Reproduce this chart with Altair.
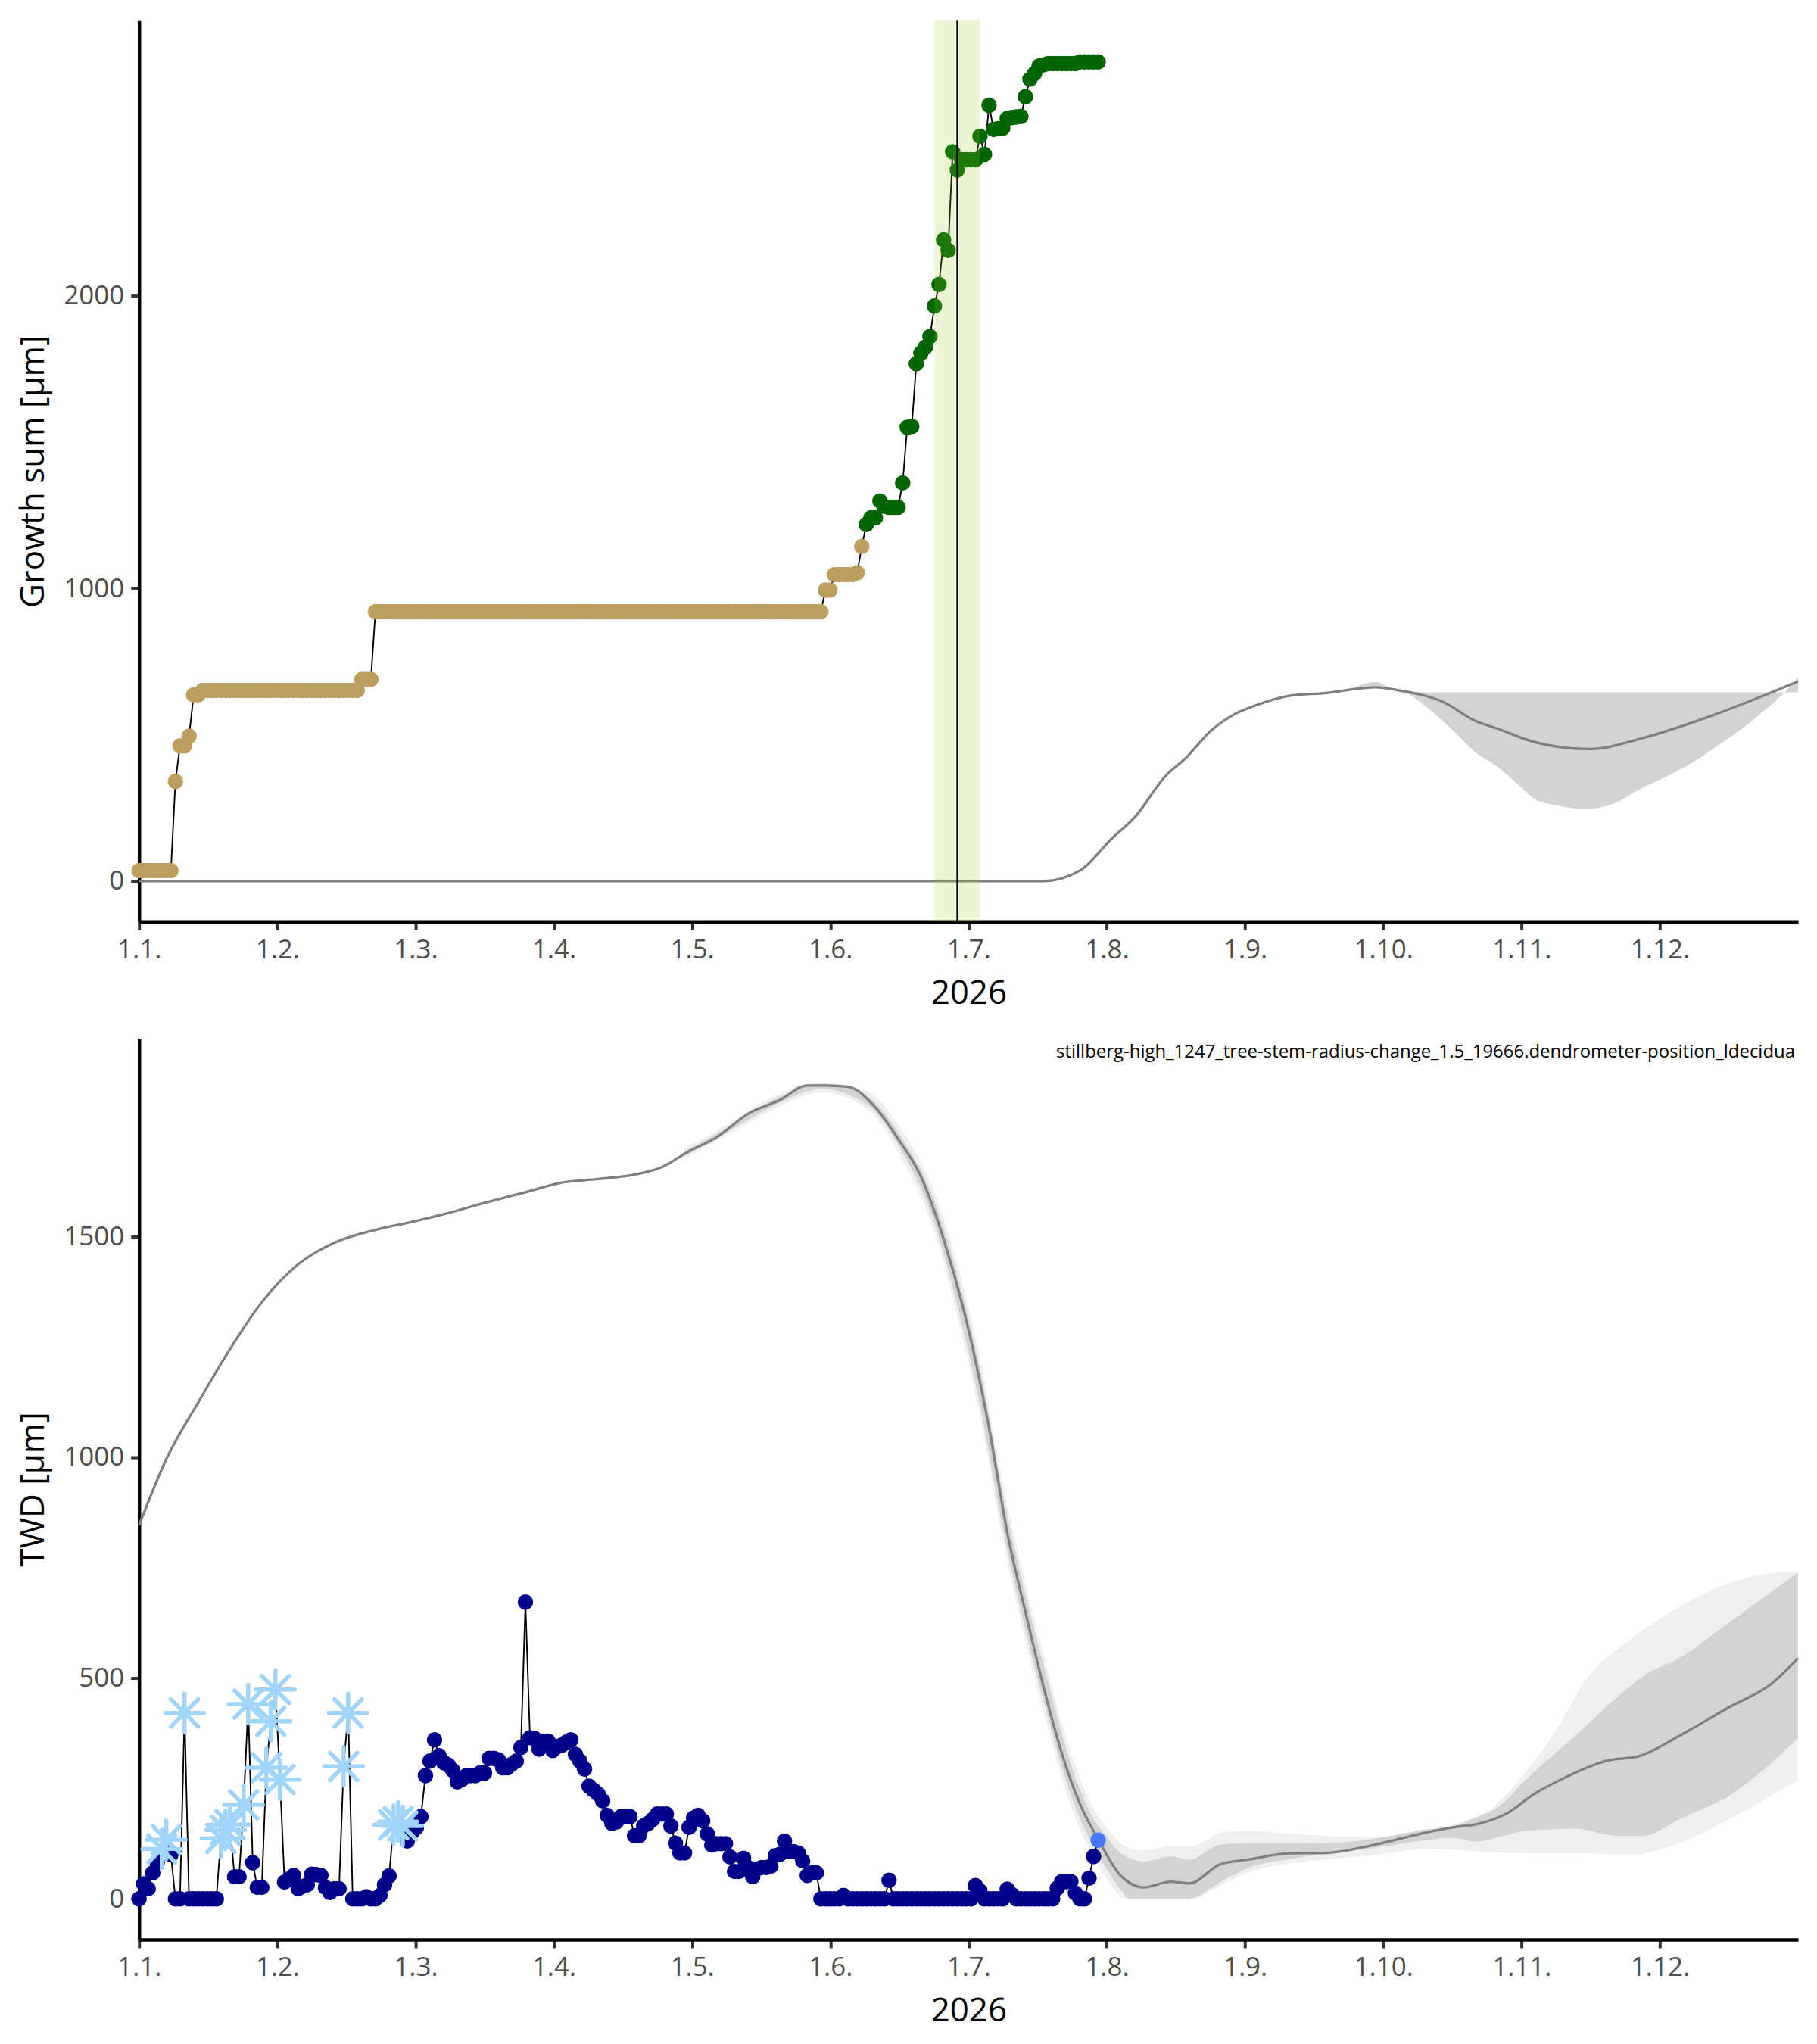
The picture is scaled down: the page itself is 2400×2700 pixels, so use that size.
import json
import altair as alt
import pandas as pd

# ---------------- data ----------------
# daily growth sum [um], day index 0 = 1 Jan 2026
growth_sum = [
    36, 36, 36, 36, 36, 36, 36, 36, 340, 462, 462, 495, 636, 636, 651, 651, 651, 651, 651, 651,
    651, 651, 651, 651, 651, 651, 651, 651, 651, 651, 651, 651, 651, 651, 651, 651, 651, 651, 651, 651,
    651, 651, 651, 651, 651, 651, 651, 651, 651, 689, 689, 689, 920, 920, 920, 920, 920, 920, 920, 920,
    920, 920, 920, 920, 920, 920, 920, 920, 920, 920, 920, 920, 920, 920, 920, 920, 920, 920, 920, 920,
    920, 920, 920, 920, 920, 920, 920, 920, 920, 920, 920, 920, 920, 920, 920, 920, 920, 920, 920, 920,
    920, 920, 920, 920, 920, 920, 920, 920, 920, 920, 920, 920, 920, 920, 920, 920, 920, 920, 920, 920,
    920, 920, 920, 920, 920, 920, 920, 920, 920, 920, 920, 920, 920, 920, 920, 920, 920, 920, 920, 920,
    920, 920, 920, 920, 920, 920, 920, 920, 920, 920, 920, 994, 994, 1047, 1047, 1047, 1047, 1047, 1053, 1143,
    1218, 1241, 1241, 1298, 1280, 1277, 1277, 1277, 1360, 1550, 1553, 1767, 1803, 1824, 1860, 1964, 2038, 2190, 2154, 2491,
    2429, 2464, 2464, 2464, 2464, 2544, 2482, 2650, 2567, 2570, 2572, 2605, 2608, 2610, 2612, 2679, 2739, 2758, 2784, 2788,
    2792, 2792, 2792, 2792, 2792, 2792, 2792, 2798, 2798, 2798, 2798, 2798,
]
growth_phase_start = 160          # first day of the growing phase (green points)
today_day = 180                   # vertical line
window_start, window_end = 175, 185

# daily tree water deficit [um]
twd = [
    0, 34, 23, 59, 83, 113, 134, 100, 0, 0,
    421, 0, 0, 0, 0, 0, 0, 0, 137, 156,
    168, 50, 50, 213, 441, 82, 26, 26, 297, 402,
    474, 270, 38, 45, 53, 23, 28, 32, 56, 55,
    53, 26, 14, 23, 23, 300, 421, 0, 0, 0,
    5, 0, 0, 8, 32, 52, 168, 175, 165, 131,
    150, 161, 186, 279, 312, 360, 324, 309, 303, 291,
    265, 270, 279, 279, 279, 285, 285, 318, 318, 315,
    297, 297, 305, 312, 343, 672, 365, 363, 339, 357,
    357, 336, 345, 348, 355, 360, 327, 312, 294, 255,
    246, 237, 222, 189, 171, 174, 186, 186, 186, 143,
    143, 165, 171, 180, 192, 192, 192, 165, 126, 104,
    104, 162, 183, 189, 177, 147, 122, 125, 125, 125,
    95, 62, 62, 92, 71, 50, 68, 71, 71, 74,
    98, 101, 131, 107, 107, 104, 86, 53, 59, 59,
    0, 0, 0, 0, 0, 8, 0, 0, 0, 0,
    0, 0, 0, 0, 0, 42, 0, 0, 0, 0,
    0, 0, 0, 0, 0, 0, 0, 0, 0, 0,
    0, 0, 0, 0, 30, 18, 0, 0, 0, 0,
    0, 22, 10, 0, 0, 0, 0, 0, 0, 0,
    0, 0, 24, 39, 39, 39, 13, 0, 0, 47,
    96, 133,
]
frost_days = [5, 6, 10, 18, 19, 20, 23, 24, 28, 29, 30, 31, 45, 46, 56, 57, 58]

# reference curves (grey) and their bands
growth_ref_days = [0, 199, 207, 214, 219, 226, 230, 236, 241, 246, 253, 262, 266, 272, 277, 287, 294,
                   299, 307, 319, 331, 342, 353, 365]
growth_ref = [0, 0, 36, 145, 217, 362, 416, 516, 570, 602, 633, 644, 653, 662, 652, 611, 547,
              520, 475, 451, 489, 543, 606, 682]
growth_band_days = [266, 269, 272, 275, 278, 284, 290, 294, 299, 303, 307, 312, 318, 324, 331, 337,
                    342, 348, 353, 357, 360, 363, 365]
growth_band_a = [653, 658, 662, 656, 648, 585, 500, 440, 389, 335, 281, 258, 246, 262, 321, 365,
                 407, 470, 525, 575, 615, 660, 697]
growth_band_b = [653, 670, 680, 662, 645, 645, 645, 645, 645, 645, 645, 645, 645, 645, 645, 645,
                 645, 645, 645, 645, 645, 645, 645]

twd_ref_days = [0, 6, 13, 20, 27, 35, 43, 52, 60, 68, 76, 85, 93, 101, 110, 115, 121, 127, 134, 141,
                147, 151, 156, 162, 167, 172, 177, 183, 187, 191, 195, 199, 203, 207, 211, 216, 221,
                227, 231, 238, 244, 253, 261, 272, 283, 289, 295, 301, 307, 314, 320, 323, 330, 339,
                350, 359, 365]
twd_ref = [846, 996, 1124, 1245, 1351, 1437, 1486, 1515, 1533, 1553, 1576, 1600, 1622, 1630, 1642,
           1657, 1693, 1724, 1778, 1809, 1842, 1842, 1839, 1792, 1721, 1636, 1494, 1266, 1067, 830,
           650, 480, 330, 215, 135, 52, 26, 39, 35, 79, 89, 103, 104, 123, 150, 162, 171, 194, 238,
           276, 303, 313, 323, 370, 435, 486, 545]
twd_outer_days = [120, 130, 140, 150, 160, 168, 175, 180, 185, 190, 195, 200, 205, 210, 213, 216, 218,
                  221, 227, 232, 238, 244, 253, 261, 272, 283, 291, 297, 303, 311, 319, 328, 339, 350,
                  361, 365]
twd_outer_lo = [1676, 1733, 1790, 1826, 1790, 1672, 1510, 1320, 1095, 815, 585, 385, 210, 95, 45, 5, 0,
                0, 0, 0, 32, 60, 80, 89, 100, 113, 110, 106, 104, 103, 103, 100, 127, 181, 245, 269]
twd_outer_hi = [1698, 1757, 1820, 1850, 1830, 1738, 1600, 1440, 1225, 945, 715, 515, 330, 205, 160, 125,
                115, 110, 120, 120, 150, 154, 148, 143, 140, 157, 174, 201, 262, 370, 506, 587, 662,
                716, 740, 743]
twd_inner_days = [120, 130, 140, 150, 160, 168, 175, 180, 185, 190, 195, 200, 205, 210, 213, 216, 218,
                  221, 227, 231, 238, 244, 253, 261, 272, 283, 289, 294, 299, 305, 316, 325, 331, 339,
                  350, 365]
twd_inner_lo = [1682, 1740, 1798, 1834, 1800, 1690, 1530, 1345, 1120, 840, 610, 410, 235, 118, 66, 20, 0,
                0, 0, 0, 39, 70, 90, 103, 116, 133, 138, 130, 140, 154, 159, 143, 143, 181, 235, 364]
twd_inner_hi = [1692, 1750, 1812, 1846, 1818, 1720, 1580, 1415, 1200, 920, 690, 490, 305, 182, 140, 103,
                92, 84, 96, 89, 123, 126, 126, 126, 137, 157, 164, 184, 208, 269, 370, 455, 505, 546,
                627, 740]

month_labels = ["1.1.", "1.2.", "1.3.", "1.4.", "1.5.", "1.6.", "1.7.", "1.8.", "1.9.", "1.10.",
                "1.11.", "1.12."]
year_title = "2026"
series_label = "stillberg-high_1247_tree-stem-radius-change_1.5_19666.dendrometer-position_ldecidua"

assert len(growth_sum) == len(twd) == 212

# ---------------- tables ----------------
days = list(range(len(growth_sum)))
growth_df = pd.DataFrame({"day": days, "value": growth_sum})
growth_df["phase"] = ["growing" if d >= growth_phase_start else "dormant" for d in days]
twd_df = pd.DataFrame({"day": days, "value": twd})
twd_df["kind"] = ["frost" if d in frost_days else "normal" for d in days]
twd_df.loc[twd_df.index[-1], "kind"] = "latest"

growth_ref_df = pd.DataFrame({"day": growth_ref_days, "value": growth_ref})
growth_band_df = pd.DataFrame({"day": growth_band_days, "a": growth_band_a, "b": growth_band_b})
twd_ref_df = pd.DataFrame({"day": twd_ref_days, "value": twd_ref})
twd_outer_df = pd.DataFrame({"day": twd_outer_days, "a": twd_outer_lo, "b": twd_outer_hi})
twd_inner_df = pd.DataFrame({"day": twd_inner_days, "a": twd_inner_lo, "b": twd_inner_hi})
window_df = pd.DataFrame({"start": [window_start], "end": [window_end]})
today_df = pd.DataFrame({"day": [today_day]})
label_df = pd.DataFrame({"label": [series_label]})

# ---------------- styling ----------------
FONT = "Open Sans"
W, H = 2195, 1192
YEAR_DAYS = 365
POINT_SIZE = 420
month_ticks = [i * YEAR_DAYS / 12 for i in range(12)]
label_expr = json.dumps(month_labels) + "[round(datum.value * 12 / 365)]"

x_scale = alt.Scale(domain=[0, YEAR_DAYS], nice=False, zero=False)
x_axis = alt.Axis(values=month_ticks, labelExpr=label_expr, title=year_title,
                  labelFlush=False, labelOverlap=False)


def X(field="day"):
    return alt.X(f"{field}:Q", scale=x_scale, axis=x_axis)


def make_y(domain, ticks, title):
    scale = alt.Scale(domain=domain, nice=False, zero=False)
    axis = alt.Axis(values=ticks, format="d", title=title, labelFlush=False)

    def Y(field="value"):
        return alt.Y(f"{field}:Q", scale=scale, axis=axis)
    return Y


Yg = make_y([-138, 2939], [0, 1000, 2000], "Growth sum [µm]")
Yt = make_y([-92, 1948], [0, 500, 1000, 1500], "TWD [µm]")

GREY_LINE = "#7F7F7F"

# ---------------- top panel ----------------
g_band = alt.Chart(growth_band_df).mark_area(color="#D3D3D3", interpolate="monotone").encode(
    x=X(), y=Yg("a"), y2="b:Q")
g_ref = alt.Chart(growth_ref_df).mark_line(color=GREY_LINE, strokeWidth=3.3,
                                            interpolate="monotone").encode(x=X(), y=Yg())
g_conn = alt.Chart(growth_df).mark_line(color="black", strokeWidth=1.9).encode(x=X(), y=Yg())
g_pts = alt.Chart(growth_df).mark_circle(size=POINT_SIZE, opacity=1).encode(
    x=X(), y=Yg(),
    color=alt.Color("phase:N", scale=alt.Scale(domain=["dormant", "growing"],
                                               range=["#BC9E5E", "#006400"]), legend=None))
g_win = alt.Chart(window_df).mark_rect(color="#9ACD32", opacity=0.2).encode(x=X("start"), x2="end:Q")
g_today = alt.Chart(today_df).mark_rule(color="black", strokeWidth=2).encode(x=X())

top = alt.layer(g_band, g_ref, g_conn, g_pts, g_win, g_today).properties(width=W, height=H)

# ---------------- bottom panel ----------------
SNOW = "M-1,0L1,0M0,-1L0,1M-0.707,-0.707L0.707,0.707M-0.707,0.707L0.707,-0.707"

t_outer = alt.Chart(twd_outer_df).mark_area(color="#EFEFEF", interpolate="monotone").encode(
    x=X(), y=Yt("a"), y2="b:Q")
t_inner = alt.Chart(twd_inner_df).mark_area(color="#D3D3D3", interpolate="monotone").encode(
    x=X(), y=Yt("a"), y2="b:Q")
t_ref = alt.Chart(twd_ref_df).mark_line(color=GREY_LINE, strokeWidth=3.3,
                                         interpolate="monotone").encode(x=X(), y=Yt())
t_conn = alt.Chart(twd_df).mark_line(color="black", strokeWidth=1.9).encode(x=X(), y=Yt())
t_pts = alt.Chart(twd_df).transform_filter(alt.datum.kind == "normal").mark_circle(
    size=POINT_SIZE, opacity=1, color="#00008B").encode(x=X(), y=Yt())
t_frost = alt.Chart(twd_df).transform_filter(alt.datum.kind == "frost").mark_point(
    shape=SNOW, size=2600, filled=False, color="#A0D4FA", strokeWidth=5.5, strokeCap="round",
    opacity=1).encode(x=X(), y=Yt())
t_last = alt.Chart(twd_df).transform_filter(alt.datum.kind == "latest").mark_circle(
    size=POINT_SIZE, opacity=1, color="#4876FF").encode(x=X(), y=Yt())
t_label = alt.Chart(label_df).mark_text(align="right", baseline="top", font=FONT, fontSize=24,
                                        color="black", dx=-4, dy=6).encode(
    x=alt.datum(YEAR_DAYS, type="quantitative", scale=x_scale),
    y=alt.datum(1948, type="quantitative"),
    text="label:N")

bottom = alt.layer(t_outer, t_inner, t_ref, t_conn, t_pts, t_frost, t_last, t_label).properties(
    width=W, height=H)

chart = alt.vconcat(top, bottom, spacing=38).properties(
    padding={"left": 14, "top": 16, "right": 10, "bottom": 5}
).configure_view(stroke=None).configure_axis(
    grid=False, domainColor="black", domainWidth=4.5, tickColor="#333333", tickWidth=4,
    tickSize=11, labelColor="#4D4D4D", labelFont=FONT, labelFontSize=35, labelPadding=9,
    titleFont=FONT, titleFontSize=44, titleFontWeight="normal", titleColor="black"
).configure_axisX(titlePadding=18).configure_axisY(titlePadding=17)

chart.save("out.html", embed_options={"renderer": "svg", "actions": False})
